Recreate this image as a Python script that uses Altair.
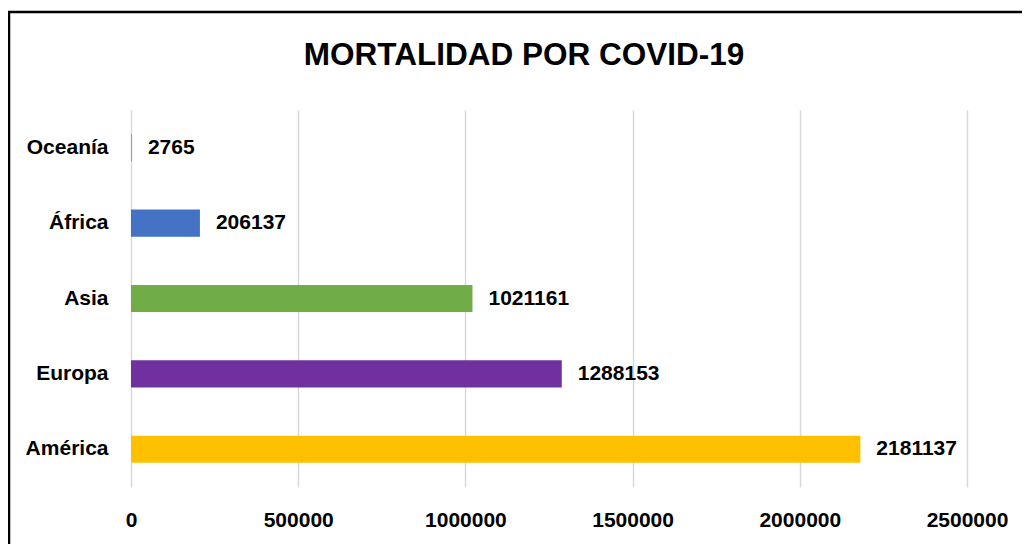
import altair as alt
import pandas as pd

regions = ["Oceanía", "África", "Asia", "Europa", "América"]
deaths = [2765, 206137, 1021161, 1288153, 2181137]
colors = ["#ED7D31", "#4472C4", "#70AD47", "#7030A0", "#FFC000"]
x_ticks = [0, 500000, 1000000, 1500000, 2000000, 2500000]
title_text = "MORTALIDAD POR COVID-19"

df = pd.DataFrame({"region": regions, "deaths": deaths})
FONT = "Liberation Sans"

x_enc = alt.X(
    "deaths:Q",
    scale=alt.Scale(domain=[0, 2500000], nice=False),
    axis=alt.Axis(
        values=x_ticks, format="d", title=None, domain=False, ticks=False,
        labelPadding=22, labelFontSize=21, labelFontWeight="bold",
        labelColor="#000000", labelFont=FONT, labelFlush=False,
        grid=True, gridColor="#d9d9d9", gridWidth=1.5,
    ),
)
y_enc = alt.Y(
    "region:N",
    sort=regions,
    scale=alt.Scale(paddingInner=0.64, paddingOuter=0.32),
    axis=alt.Axis(
        title=None, domain=False, ticks=False, labelPadding=23,
        labelFontSize=21, labelFontWeight="bold", labelColor="#000000",
        labelFont=FONT,
    ),
)

bars = alt.Chart(df).mark_bar().encode(
    x=x_enc,
    y=y_enc,
    color=alt.Color("region:N", scale=alt.Scale(domain=regions, range=colors), legend=None),
)

labels = alt.Chart(df).mark_text(
    align="left", baseline="middle", dx=16, fontSize=21, fontWeight="bold",
    font=FONT, color="#000000",
).encode(
    x=alt.X("deaths:Q"),
    y=alt.Y("region:N", sort=regions),
    text=alt.Text("deaths:Q", format="d"),
)

frame = alt.Chart(pd.DataFrame({"a": [0]})).mark_rect(
    fillOpacity=0, stroke="#000000", strokeWidth=2.5
).encode(
    x=alt.value(-122), x2=alt.value(960), y=alt.value(-98), y2=alt.value(460)
)

chart = alt.layer(frame, bars, labels).properties(
    width=836,
    height=377,
    background="#ffffff",
    autosize=alt.AutoSizeParams(type="none"),
    padding={"left": 123, "top": 102, "right": 55, "bottom": 57},
    title=alt.TitleParams(
        title_text, font=FONT, fontSize=31.5, fontWeight="bold", color="#000000",
        anchor="middle", dx=-25, baseline="middle", offset=-77,
    ),
).configure_view(strokeWidth=0, stroke="transparent")

chart.save("out.html", embed_options={"renderer": "svg", "actions": False})
